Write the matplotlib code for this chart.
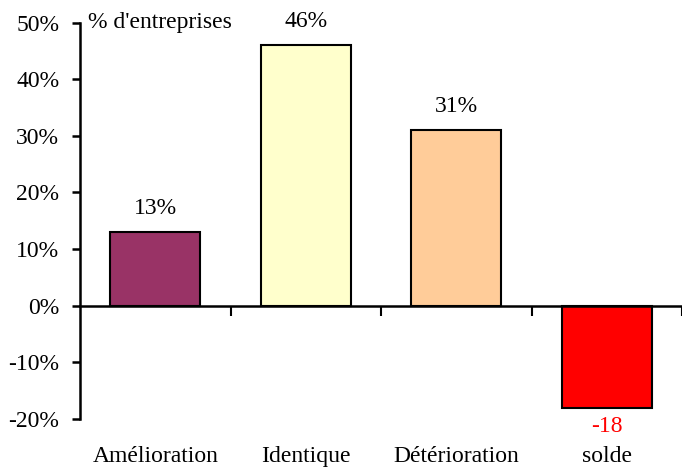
import matplotlib
matplotlib.use("Agg")
import matplotlib.pyplot as plt
import numpy as np

categories = ["Amélioration", "Identique", "Détérioration", "solde"]
values = [13, 46, 31, -18]
value_labels = ["13%", "46%", "31%", "-18"]
bar_colors = ["#993366", "#FFFFCC", "#FFCC99", "#FF0000"]
label_colors = ["black", "black", "black", "#FF0000"]
y_ticks = [-20, -10, 0, 10, 20, 30, 40, 50]

plt.rcParams["font.family"] = ["Liberation Serif", "DejaVu Serif"]
FS = 17

fig = plt.figure(figsize=(6.82, 4.70), dpi=100)
ax = fig.add_axes([80 / 682, 1 - 419 / 470, 602 / 682, (419 - 22.5) / 470])

x = np.arange(len(categories))
ax.bar(x, values, width=0.6, color=bar_colors, edgecolor="black", linewidth=1.5, zorder=2)

ax.set_xlim(-0.5, len(categories) - 0.5)
ax.set_ylim(-20, 50)
ax.set_yticks(y_ticks)
ax.set_yticklabels([f"{v}%" for v in y_ticks], fontsize=FS)

# x axis drawn along zero, ticks at category boundaries
ax.spines["bottom"].set_position(("data", 0))
ax.spines["top"].set_visible(False)
ax.spines["right"].set_visible(False)
for s in ("left", "bottom"):
    ax.spines[s].set_linewidth(1.8)
ax.set_xticks(np.arange(0.5, len(categories), 1.0))
ax.set_xticklabels([])
ax.tick_params(axis="x", direction="out", length=7, width=1.5)
ax.tick_params(axis="y", direction="out", length=6, width=1.8, pad=9)

# category names below the plotting area
for xi, name in zip(x, categories):
    ax.annotate(name, (xi, -20), xytext=(0, -27), textcoords="offset points",
                ha="center", va="center", fontsize=FS, annotation_clip=False)

# value labels
for xi, v, lab, c in zip(x, values, value_labels, label_colors):
    dy = 17 if v >= 0 else -13.5
    ax.annotate(lab, (xi, v), xytext=(0, dy), textcoords="offset points",
                ha="center", va="center", fontsize=FS, color=c,
                annotation_clip=False)

ax.annotate("% d'entreprises", (0, 50), xycoords=("axes fraction", "data"),
            xytext=(6, 0), textcoords="offset points",
            ha="left", va="center", fontsize=FS)

fig.savefig("out.png", dpi=100)
